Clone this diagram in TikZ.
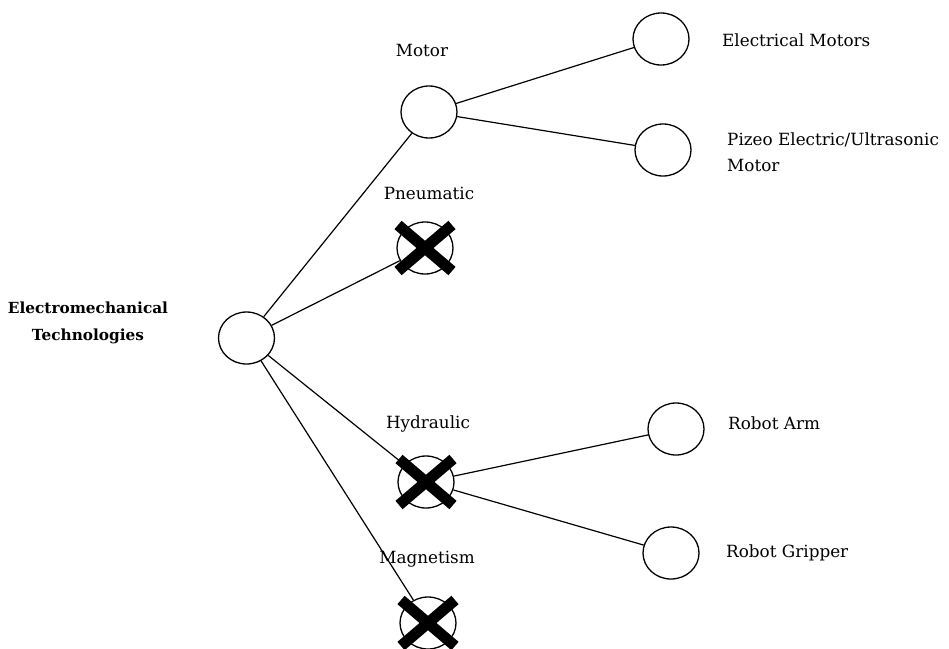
\documentclass[tikz,border=0pt]{standalone}
\usepackage{fontspec}
\setmainfont{DejaVu Serif}
\usetikzlibrary{shapes.geometric}
\begin{document}
\begin{tikzpicture}[x=1pt,y=-1pt,
  circ/.style={ellipse, draw, line width=1.3pt, minimum width=56pt, minimum height=52pt, inner sep=0pt},
  lab/.style={font=\fontsize{16.8}{26}\selectfont, inner sep=0pt},
  conn/.style={line width=1.2pt},
  xmark/.style={line width=11pt}]
\useasboundingbox (0,0) rectangle (949,648);
\node[circ] (root) at (246.5,338) {};
\node[circ] (motor) at (429,112) {};
\node[circ] (pneu) at (425,248) {};
\node[circ] (hyd) at (426,482) {};
\node[circ] (mag) at (428,623) {};
\node[circ] (elec) at (661,39) {};
\node[circ] (pizeo) at (663,150) {};
\node[circ] (arm) at (676,429) {};
\node[circ] (grip) at (671,553) {};
\draw[conn] (root) -- (motor);
\draw[conn] (root) -- (pneu);
\draw[conn] (root) -- (hyd);
\draw[conn] (root) -- (mag);
\draw[conn] (motor) -- (elec);
\draw[conn] (motor) -- (pizeo);
\draw[conn] (hyd) -- (arm);
\draw[conn] (hyd) -- (grip);
\foreach \n in {pneu,hyd,mag}{
  \draw[xmark] ([shift={(-27,-23)}]\n.center) -- ([shift={(27,23)}]\n.center);
  \draw[xmark] ([shift={(-27,23)}]\n.center) -- ([shift={(27,-23)}]\n.center);
}
\node[lab, font=\fontsize{15.3}{27}\selectfont\bfseries, align=center] (rootlab) at (88,323) {Electromechanical\\Technologies};
\node[lab] (motorlab) at (422,50) {Motor};
\node[lab] (pneulab) at (429,193) {Pneumatic};
\node[lab] (hydlab) at (428,424) {Hydraulic};
\node[lab] (maglab) at (427,559) {Magnetism};
\node[lab, anchor=west] (eleclab) at (722,40) {Electrical Motors};
\node[lab, anchor=west, align=left] (pizeolab) at (727,152) {Pizeo Electric/Ultrasonic\\Motor};
\node[lab, anchor=west] (armlab) at (728,423) {Robot Arm};
\node[lab, anchor=west] (griplab) at (726,553) {Robot Gripper};
\end{tikzpicture}
\end{document}
